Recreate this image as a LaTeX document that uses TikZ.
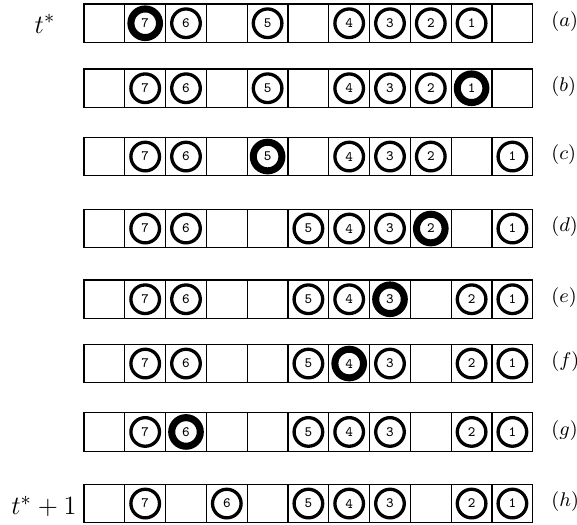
\documentclass[tikz,border=0pt]{standalone}
\begin{document}
\begin{tikzpicture}[x=0.4545pt,y=-0.4545pt,
  cellbox/.style={draw, line width=0.6pt, rectangle, inner sep=0pt, minimum width=18.54pt, minimum height=17.5pt},
  ball/.style={draw, circle, inner sep=0pt, minimum size=13pt, font=\fontsize{6.5}{7}\selectfont\ttfamily},
  rowlabel/.style={anchor=west, inner sep=0pt, font=\fontsize{9}{10.8}\selectfont},
  timelabel/.style={anchor=base, inner sep=0pt, font=\fontsize{13}{15.6}\selectfont}]
\useasboundingbox (0,0) rectangle (577,525);
\foreach \t/\l/\bl in {
  4/a/{1/7/3.2,2/6/1.5,4/5/1.5,6/4/1.5,7/3/1.5,8/2/1.5,9/1/1.5},
  69/b/{1/7/1.5,2/6/1.5,4/5/1.5,6/4/1.5,7/3/1.5,8/2/1.5,9/1/3.2},
  137.3/c/{1/7/1.5,2/6/1.5,4/5/3.2,6/4/1.5,7/3/1.5,8/2/1.5,10/1/1.5},
  209.3/d/{1/7/1.5,2/6/1.5,5/5/1.5,6/4/1.5,7/3/1.5,8/2/3.2,10/1/1.5},
  280/e/{1/7/1.5,2/6/1.5,5/5/1.5,6/4/1.5,7/3/3.2,9/2/1.5,10/1/1.5},
  344.3/f/{1/7/1.5,2/6/1.5,5/5/1.5,6/4/3.2,7/3/1.5,9/2/1.5,10/1/1.5},
  412.7/g/{1/7/1.5,2/6/3.2,5/5/1.5,6/4/1.5,7/3/1.5,9/2/1.5,10/1/1.5},
  484.3/h/{1/7/1.5,3/6/1.5,5/5/1.5,6/4/1.5,7/3/1.5,9/2/1.5,10/1/1.5}}{
  \foreach \i in {0,...,10}{
    \node[cellbox] (cell-\l-\i) at ({84+(\i+0.5)*40.8}, {\t+19.25}) {};
  }
  \foreach \c/\n/\w in \bl{
    \node[ball, line width=\w pt] (ball-\l-\n) at (cell-\l-\c.center) {\n};
  }
  \node[rowlabel] (lab-\l) at (551, {\t+17.5}) {$(\l)$};
}
\node[timelabel] (tstar) at (45,33) {$t^*$};
\node[timelabel] (tstar1) at (44,515) {$t^*+1$};
\end{tikzpicture}
\end{document}
